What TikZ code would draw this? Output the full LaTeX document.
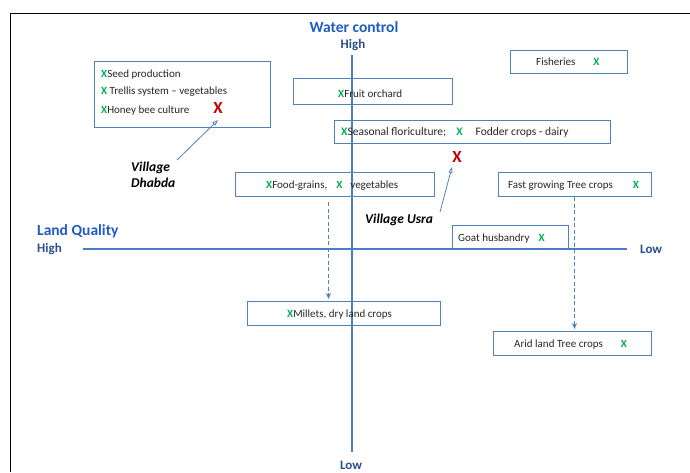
\documentclass[tikz,border=0pt]{standalone}
\usepackage{fontspec}
\setmainfont{Carlito}
\usetikzlibrary{arrows.meta}
\definecolor{boxblue}{HTML}{4F81BD}
\definecolor{axisblue}{HTML}{4A7EC0}
\definecolor{titleblue}{HTML}{1F5CC4}
\definecolor{endblue}{HTML}{2A4F8A}
\definecolor{tickgreen}{HTML}{00B050}
\definecolor{markred}{HTML}{C00000}
\newcommand{\gx}{{\bfseries\color{tickgreen}X}}
\newcommand{\rx}{{\fontsize{17}{17}\selectfont\bfseries\color{markred}X}}
\tikzset{
  cropbox/.style={draw=boxblue, line width=0.9pt, inner sep=0pt},
  croptext/.style={anchor=base west, inner sep=0pt, font=\fontsize{11}{13}\selectfont, text=black!85},
  axis/.style={draw=axisblue, line width=2.4pt},
  axistitle/.style={font=\fontsize{15.5}{16}\selectfont\bfseries, text=titleblue, inner sep=0pt},
  axisend/.style={font=\fontsize{13}{14}\selectfont\bfseries, text=endblue, inner sep=0pt},
  village/.style={anchor=base west, font=\fontsize{13.5}{17}\selectfont\bfseries\itshape, text=black, inner sep=0pt},
  pointer/.style={draw=boxblue, line width=0.8pt, -{Stealth[length=6pt,width=4pt,inset=0pt,open]}},
  shiftarrow/.style={draw=boxblue, line width=0.8pt, dashed, dash pattern=on 4pt off 2.5pt,
    -{Stealth[length=6pt,width=5pt,open]}}
}
\begin{document}
\begin{tikzpicture}[x=1pt,y=-1pt]
\useasboundingbox (0,0) rectangle (690,472);
% open frame
\draw[line width=1.8pt, black] (690,13.5) -- (10.5,13.5) -- (10.5,472);

% axes
\coordinate (vtop) at (352,55);
\coordinate (vbot) at (352,452);
\coordinate (hleft) at (83,249);
\coordinate (hright) at (627,249);
\draw[axis] (vtop) -- (vbot);
\draw[axis] (hleft) -- (hright);
\node[axistitle] (wc) at (354,27) {Water control};
\node[axisend] (whigh) at (353,45) {High};
\node[axisend] (wlow) at (351,465) {Low};
\node[axistitle, anchor=west] (lq) at (37,231) {Land Quality};
\node[axisend, anchor=west] (lhigh) at (37,249) {High};
\node[axisend, anchor=west] (llow) at (640,249) {Low};

% box outlines (white-filled where the box hides the axis)
\node[cropbox, fill=white, minimum width=176pt, minimum height=66pt] (seed)   at (182,94) {};
\node[cropbox, fill=white, minimum width=117pt, minimum height=23pt] (fish)   at (568.5,61.5) {};
\node[cropbox, minimum width=159pt, minimum height=26pt] (fruit)  at (372.5,91) {};
\node[cropbox, minimum width=276pt, minimum height=23pt] (season) at (472,131.5) {};
\node[cropbox, minimum width=199pt, minimum height=24pt] (food)   at (334.5,184) {};
\node[cropbox, fill=white, minimum width=153pt, minimum height=24pt] (fast)   at (574.5,184) {};
\node[cropbox, fill=white, minimum width=116pt, minimum height=24pt] (goat)   at (510,237) {};
\node[cropbox, minimum width=193pt, minimum height=24pt] (millet) at (343.5,313) {};
\node[cropbox, fill=white, minimum width=158pt, minimum height=24pt] (arid)   at (572,343) {};
\draw[axis] (hleft) -- (hright);

% box texts
\node[croptext] (seedl1) at (101,77) {\gx Seed production};
\node[croptext] (seedl2) at (101,94.5) {\gx\ Trellis system -- vegetables};
\node[croptext] (seedl3) at (101,113.5) {\gx Honey bee culture};
\node[inner sep=0pt] (dhabdax) at (218,108) {\rx};
\node[croptext] (fisht) at (536,65.5) {Fisheries\hspace{18pt}\gx};
\node[croptext] (fruitt) at (338,97) {\gx Fruit orchard};
\node[croptext, font=\fontsize{11.5}{13}\selectfont] (seasont) at (341,135.5) {\gx Seasonal floriculture;\hspace{10pt}\gx\hspace{13pt}Fodder crops - dairy};
\node[croptext] (foodt) at (266,188) {\gx Food-grains,\hspace{9pt}\gx\hspace{8pt}vegetables};
\node[croptext] (fastt) at (508,188) {Fast growing Tree crops\hspace{20pt}\gx};
\node[croptext] (goatt) at (458,241) {Goat husbandry\hspace{9pt}\gx};
\node[croptext] (millett) at (287,317) {\gx Millets, dry land crops};
\node[croptext] (aridt) at (514,347) {Arid land Tree crops\hspace{18pt}\gx};

% villages
\node[inner sep=0pt] (usrax) at (457,157) {\rx};
\node[village] (usra) at (365,223.5) {Village Usra};
\node[village] (dhabda1) at (131,171) {Village};
\node[village] (dhabda2) at (131,187) {Dhabda};
\coordinate (usrafoot) at (440,212);
\draw[pointer] (usrafoot) -- (452,167);
\coordinate (dhabdafoot) at (177,160);
\draw[pointer] (dhabdafoot) -- (218,120);

% shifts under lower water control
\draw[shiftarrow] ([xshift=-6pt,yshift=-6pt]food.south) -- ([xshift=-6pt,yshift=1.5pt]food.south |- millet.north);
\draw[shiftarrow] ([yshift=-1pt]fast.south) -- ([yshift=1.5pt]fast.south |- arid.north);
\end{tikzpicture}
\end{document}
